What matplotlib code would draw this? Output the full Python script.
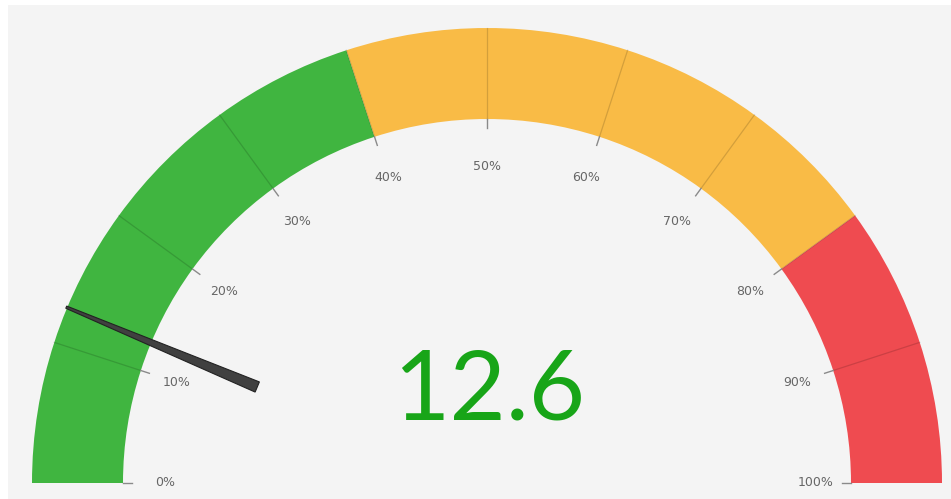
import numpy as np
import matplotlib.pyplot as plt
from matplotlib.patches import Wedge, Polygon, Rectangle

# gauge data
value = 12.6
band_starts = [0, 40, 80]
band_ends = [40, 80, 100]
band_colors = ["#40b540", "#f9bb46", "#ef4b50"]
tick_values = [0, 10, 20, 30, 40, 50, 60, 70, 80, 90, 100]
tick_labels = [f"{t}%" for t in tick_values]

W, H = 951, 499
fig = plt.figure(figsize=(W / 100, H / 100), dpi=100)
ax = fig.add_axes([0, 0, 1, 1])
ax.set_xlim(0, W)
ax.set_ylim(0, H)
ax.axis("off")
fig.patch.set_facecolor("white")

# grey panel
ax.add_patch(Rectangle((8, 0), W - 8, H - 5, facecolor="#f4f4f4", edgecolor="none", zorder=0))

cx, cy = 487, 16
r_out, r_in = 455, 364


def ang(v):
    return 180 - v * 1.8


for s, e, c in zip(band_starts, band_ends, band_colors):
    ax.add_patch(Wedge((cx, cy), r_out, ang(e), ang(s), width=r_out - r_in,
                       facecolor=c, edgecolor="none", zorder=1))

for t, lab in zip(tick_values, tick_labels):
    a = np.radians(ang(t))
    u = np.array([np.cos(a), np.sin(a)])
    if 0 < t < 100:
        p0 = (cx, cy) + u * r_in
        p1 = (cx, cy) + u * r_out
        ax.plot([p0[0], p1[0]], [p0[1], p1[1]], color="black", alpha=0.15, lw=0.9, zorder=2)
    q0 = (cx, cy) + u * (r_in - 9)
    q1 = (cx, cy) + u * r_in
    ax.plot([q0[0], q1[0]], [q0[1], q1[1]], color="#8a8a8a", lw=1.0, zorder=2)
    # label placed so its inner edge sits at r = 312
    w = 6.5 * (len(lab) - 1) + 13
    h = 10
    half = w / 2 * abs(u[0]) + h / 2 * abs(u[1])
    pos = (cx, cy) + u * (312 + half)
    ax.text(pos[0], pos[1], lab, ha="center", va="center", fontsize=9,
            color="#666666", family="DejaVu Sans", zorder=3)

# needle
a = np.radians(ang(value))
u = np.array([np.cos(a), np.sin(a)])
n = np.array([-u[1], u[0]])
c0 = np.array([cx, cy])
tip_r, base_r = 456, 249
pts = [c0 + u * tip_r + n * 1.2, c0 + u * tip_r - n * 1.2,
       c0 + u * base_r - n * 5.5, c0 + u * base_r + n * 5.5]
ax.add_patch(Polygon(pts, closed=True, facecolor="#404040", edgecolor="#222222",
                     lw=0.8, zorder=4))

ax.text(489, 107, f"{value}", ha="center", va="center", fontsize=70,
        color="#18a518", family="Lato", fontweight="normal", zorder=3)

fig.savefig("out.png", dpi=100)
